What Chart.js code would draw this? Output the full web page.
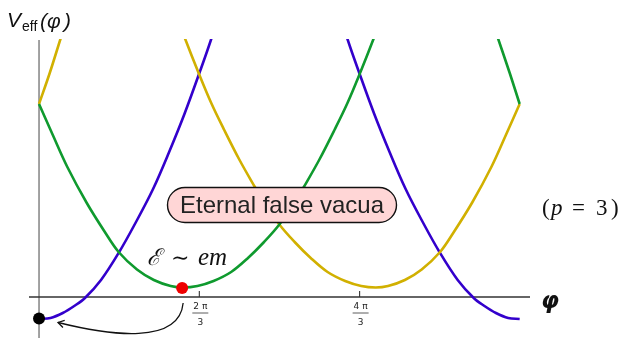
<!DOCTYPE html>
<html>
<head>
<meta charset="utf-8">
<script src="https://cdn.jsdelivr.net/npm/chart.js@4.4.1/dist/chart.umd.min.js"></script>
<style>
  html, body { margin: 0; padding: 0; background: #fff; }
  #chart { display: block; }
</style>
</head>
<body>
<canvas id="chart" width="622" height="338"></canvas>
<script>
// branches of V_eff(phi), phi in radians
const blueLeftPhi = [0.00, 0.15, 0.31, 0.46, 0.60, 0.81, 1.04, 1.26, 1.49, 1.70, 1.90, 2.10, 2.25, 2.40];
const blueLeftV = [-0.22, -0.21, -0.16, -0.09, -0.01, 0.17, 0.44, 0.74, 1.08, 1.45, 1.83, 2.25, 2.58, 2.95];
const blueRightPhi = [3.88, 4.03, 4.18, 4.38, 4.58, 4.79, 5.02, 5.24, 5.47, 5.68, 5.82, 5.97, 6.13, 6.28];
const blueRightV = [2.95, 2.58, 2.25, 1.83, 1.45, 1.08, 0.74, 0.44, 0.17, -0.01, -0.09, -0.16, -0.21, -0.22];

const greenPhi = [0.00, 0.18, 0.37, 0.62, 0.86, 1.04, 1.28, 1.50, 1.72, 1.88, 2.07, 2.28, 2.51, 2.73, 2.94, 3.14, 3.36, 3.46, 3.66, 3.86, 4.03, 4.20, 4.37, 4.52];
const greenV = [1.93, 1.62, 1.30, 0.945, 0.65, 0.45, 0.275, 0.17, 0.11, 0.095, 0.11, 0.16, 0.25, 0.39, 0.55, 0.725, 0.97, 1.10, 1.37, 1.67, 1.94, 2.25, 2.58, 2.89];
const greenEdgePhi = [5.92, 6.00, 6.15, 6.28];
const greenEdgeV = [2.77, 2.58, 2.24, 1.93];

const yellowPhi = [1.76, 1.91, 2.08, 2.25, 2.42, 2.62, 2.82, 2.92, 3.14, 3.34, 3.55, 3.77, 4.00, 4.21, 4.40, 4.56, 4.78, 5.00, 5.24, 5.42, 5.66, 5.91, 6.10, 6.28];
const yellowV = [2.89, 2.58, 2.25, 1.94, 1.67, 1.37, 1.10, 0.97, 0.725, 0.55, 0.39, 0.25, 0.16, 0.11, 0.095, 0.11, 0.17, 0.275, 0.45, 0.65, 0.945, 1.30, 1.62, 1.93];
const yellowEdgePhi = [0.00, 0.14, 0.28, 0.36];
const yellowEdgeV = [1.93, 2.24, 2.58, 2.77];

// marked points: false vacuum (red) and true vacuum (black)
const falseVacuum = [1.87, 0.09];
const trueVacuum = [0.00, -0.215];

// axis ticks at 2pi/3 and 4pi/3
const tickValues = [2 * Math.PI / 3, 4 * Math.PI / 3];
const tickNumerators = ["2 π", "4 π"];
const tickDenominators = ["3", "3"];

const BLUE = "#3300cc";
const GREEN = "#0f9a2e";
const YELLOW = "#d1b000";

function pts(xs, ys) {
  return xs.map((x, i) => ({ x: x, y: ys[i] }));
}

function curve(xs, ys, color) {
  return {
    data: pts(xs, ys),
    showLine: true,
    borderColor: color,
    borderWidth: 2.6,
    pointRadius: 0,
    tension: 0.35,
    clip: 0,
  };
}

function dot(p, color) {
  return {
    data: [{ x: p[0], y: p[1] }],
    pointRadius: 6,
    pointBackgroundColor: color,
    pointBorderWidth: 0,
    showLine: false,
    clip: false,
  };
}

function roundBox(ctx, x, y, w, h, r) {
  ctx.beginPath();
  ctx.moveTo(x + r, y);
  ctx.lineTo(x + w - r, y);
  ctx.arc(x + w - r, y + r, r, -Math.PI / 2, Math.PI / 2);
  ctx.lineTo(x + r, y + h);
  ctx.arc(x + r, y + r, r, Math.PI / 2, Math.PI * 1.5);
  ctx.closePath();
}

const drawing = {
  id: "drawing",
  beforeDatasetsDraw(chart) {
    const { ctx, chartArea: a, scales: { x, y } } = chart;
    const x0 = x.getPixelForValue(0);
    const y0 = y.getPixelForValue(0);
    ctx.save();

    // vertical axis
    ctx.strokeStyle = "#7a7a7a";
    ctx.lineWidth = 1.4;
    ctx.beginPath();
    ctx.moveTo(x0, a.top + 1);
    ctx.lineTo(x0, a.bottom);
    ctx.stroke();

    // horizontal axis
    ctx.strokeStyle = "#333";
    ctx.lineWidth = 1.3;
    ctx.beginPath();
    ctx.moveTo(a.left, y0);
    ctx.lineTo(a.right, y0);
    ctx.stroke();

    // ticks with stacked fractions
    ctx.fillStyle = "#222";
    ctx.textAlign = "center";
    ctx.textBaseline = "middle";
    tickValues.forEach((v, i) => {
      const px = x.getPixelForValue(v);
      ctx.lineWidth = 1.1;
      ctx.beginPath();
      ctx.moveTo(px, y0 - 6);
      ctx.lineTo(px, y0);
      ctx.stroke();
      ctx.font = '9px "DejaVu Sans"';
      ctx.fillText(tickNumerators[i], px + 1, y0 + 10);
      ctx.lineWidth = 0.8;
      ctx.beginPath();
      ctx.moveTo(px - 7, y0 + 16);
      ctx.lineTo(px + 9, y0 + 16);
      ctx.stroke();
      ctx.fillText(tickDenominators[i], px + 1, y0 + 26);
    });
    ctx.restore();
  },
  afterDatasetsDraw(chart) {
    const { ctx, scales: { x, y } } = chart;
    ctx.save();
    ctx.fillStyle = "#111";
    ctx.textBaseline = "alphabetic";
    ctx.textAlign = "left";

    // y axis title V_eff(phi)
    ctx.font = 'italic 21px "Liberation Sans"';
    ctx.fillText("V", 7, 27);
    ctx.font = '14px "Liberation Sans"';
    ctx.fillText("eff", 22, 31);
    ctx.font = 'italic 21px "Liberation Sans"';
    ctx.fillText("(", 40, 28);
    ctx.fillText("φ", 47, 28);
    ctx.fillText(")", 64, 28);

    // x axis title
    ctx.font = 'italic bold 23px "DejaVu Sans"';
    ctx.textAlign = "center";
    ctx.textBaseline = "middle";
    ctx.fillText("φ", 550, 302);

    // (p = 3)
    ctx.textAlign = "left";
    ctx.textBaseline = "alphabetic";
    ctx.font = '23px "Liberation Serif"';
    ctx.fillText("(", 542, 215);
    ctx.font = 'italic 23px "Liberation Serif"';
    ctx.fillText("p", 551, 215);
    ctx.font = '23px "Liberation Serif"';
    ctx.fillText("=", 572, 215);
    ctx.fillText("3", 596, 215);
    ctx.fillText(")", 611, 215);

    // label next to the false vacuum
    ctx.font = 'italic 23px "DejaVu Serif"';
    ctx.fillText("ℰ", 147, 265);
    ctx.font = '22px "DejaVu Serif"';
    ctx.fillText("∼", 171, 265);
    ctx.font = 'italic 25px "Liberation Serif"';
    ctx.fillText("em", 198, 265);

    // Eternal false vacua box
    roundBox(ctx, 167.5, 187.5, 229, 35, 17.5);
    ctx.fillStyle = "#ffd6d6";
    ctx.fill();
    ctx.strokeStyle = "#111";
    ctx.lineWidth = 1.4;
    ctx.stroke();
    ctx.fillStyle = "#222";
    ctx.font = '24px "Liberation Sans"';
    ctx.textAlign = "center";
    ctx.textBaseline = "middle";
    ctx.fillText("Eternal false vacua", 282, 206, 204);

    // curved arrow from the false vacuum to the true vacuum
    const rx = x.getPixelForValue(falseVacuum[0]);
    const ry = y.getPixelForValue(falseVacuum[1]);
    const bx = x.getPixelForValue(trueVacuum[0]);
    const by = y.getPixelForValue(trueVacuum[1]);
    const sx = rx + 1, sy = ry + 15;
    const ex = bx + 19, ey = by + 4;
    const c2x = rx - 72, c2y = by + 17;
    ctx.strokeStyle = "#111";
    ctx.lineWidth = 1.3;
    ctx.beginPath();
    ctx.moveTo(sx, sy);
    ctx.bezierCurveTo(rx - 3, ry + 57, c2x, c2y, ex, ey);
    ctx.stroke();
    const ang = Math.atan2(ey - c2y, ex - c2x);
    ctx.beginPath();
    ctx.moveTo(ex - 7 * Math.cos(ang - 0.55), ey - 7 * Math.sin(ang - 0.55));
    ctx.lineTo(ex, ey);
    ctx.lineTo(ex - 7 * Math.cos(ang + 0.55), ey - 7 * Math.sin(ang + 0.55));
    ctx.stroke();
    ctx.restore();
  },
};

new Chart(document.getElementById("chart"), {
  type: "scatter",
  data: {
    datasets: [
      dot(falseVacuum, "#ee0000"),
      dot(trueVacuum, "#000"),
      curve(greenPhi, greenV, GREEN),
      curve(greenEdgePhi, greenEdgeV, GREEN),
      curve(yellowPhi, yellowV, YELLOW),
      curve(yellowEdgePhi, yellowEdgeV, YELLOW),
      curve(blueLeftPhi, blueLeftV, BLUE),
      curve(blueRightPhi, blueRightV, BLUE),
    ],
  },
  options: {
    responsive: false,
    animation: false,
    layout: { autoPadding: false, padding: { left: 29, right: 92, top: 39, bottom: 0 } },
    scales: {
      x: { type: "linear", min: -0.131, max: 6.415, display: false },
      y: { type: "linear", min: -0.41, max: 2.58, display: false },
    },
    plugins: {
      legend: { display: false },
      tooltip: { enabled: false },
    },
  },
  plugins: [drawing],
});
</script>
</body>
</html>
